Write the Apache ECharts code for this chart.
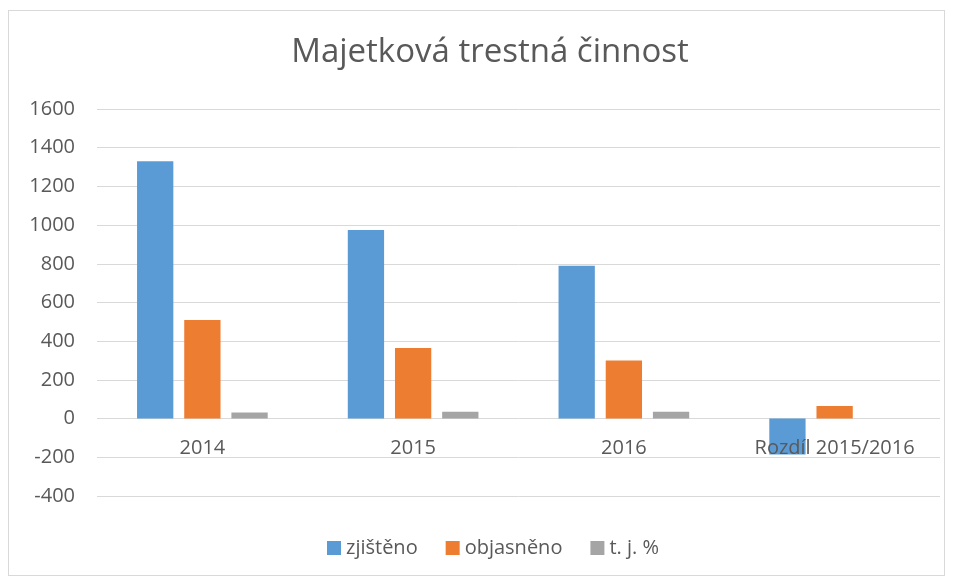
<!DOCTYPE html>
<html>
<head>
<meta charset="utf-8">
<script src="https://cdn.jsdelivr.net/npm/echarts@6/dist/echarts.min.js"></script>
<style>
  html, body { margin: 0; padding: 0; background: #fff; }
  #frame {
    position: absolute; left: 8px; top: 10px; width: 937px; height: 566px;
    border: 1px solid #d9d9d9; box-sizing: border-box;
  }
  #chart { position: absolute; left: 0; top: 0; width: 956px; height: 579px; }
</style>
</head>
<body>
<div id="frame"></div>
<div id="chart"></div>
<script>
// data
var categories = ["2014", "2015", "2016", "Rozdíl 2015/2016"];
var zjisteno = [1330, 975, 790, -185];
var objasneno = [510, 365, 300, 65];
var tjProcent = [32, 36, 36, 0];
var yTicks = { min: -400, max: 1600, step: 200 };

var font = "'Open Sans', 'Noto Sans', sans-serif";
var textColor = "#595959";

var myChart = echarts.init(document.getElementById("chart"));
var options = {
  animation: false,
  textStyle: { fontFamily: font },
  title: {
    text: "Majetková trestná činnost",
    left: 485,
    top: 31,
    textAlign: "center",
    textStyle: { fontFamily: font, fontSize: 33, fontWeight: "normal", color: textColor },
  },
  legend: {
    bottom: 16,
    left: 322,
    icon: "rect",
    itemWidth: 14,
    itemHeight: 14,
    itemGap: 28,
    textStyle: { fontFamily: font, fontSize: 20, color: textColor },
    data: ["zjištěno", "objasněno", "t. j. %"],
  },
  grid: { left: 97, right: 16, top: 109, bottom: 83 },
  xAxis: {
    type: "category",
    data: categories,
    // labels sit just under the zero line
    axisLine: { show: false, onZero: false },
    offset: -77,
    axisTick: { show: false },
    axisLabel: { fontFamily: font, fontSize: 20, color: textColor, margin: 19 },
    z: 10,
  },
  yAxis: {
    type: "value",
    min: yTicks.min,
    max: yTicks.max,
    interval: yTicks.step,
    axisLine: { show: false },
    axisTick: { show: false },
    axisLabel: {
      fontFamily: font, fontSize: 20, color: textColor, margin: 22,
      formatter: function (v) { return String(v); },
    },
    splitLine: { lineStyle: { color: "#d9d9d9", width: 1 } },
  },
  series: [
    {
      name: "zjištěno",
      type: "bar",
      data: zjisteno,
      barGap: "30%",
      barCategoryGap: "38%",
      itemStyle: { color: "#5b9bd5" },
    },
    {
      name: "objasněno",
      type: "bar",
      data: objasneno,
      itemStyle: { color: "#ed7d31" },
    },
    {
      name: "t. j. %",
      type: "bar",
      data: tjProcent,
      itemStyle: { color: "#a5a5a5" },
    },
  ],
};
myChart.setOption(options);
</script>
</body>
</html>
